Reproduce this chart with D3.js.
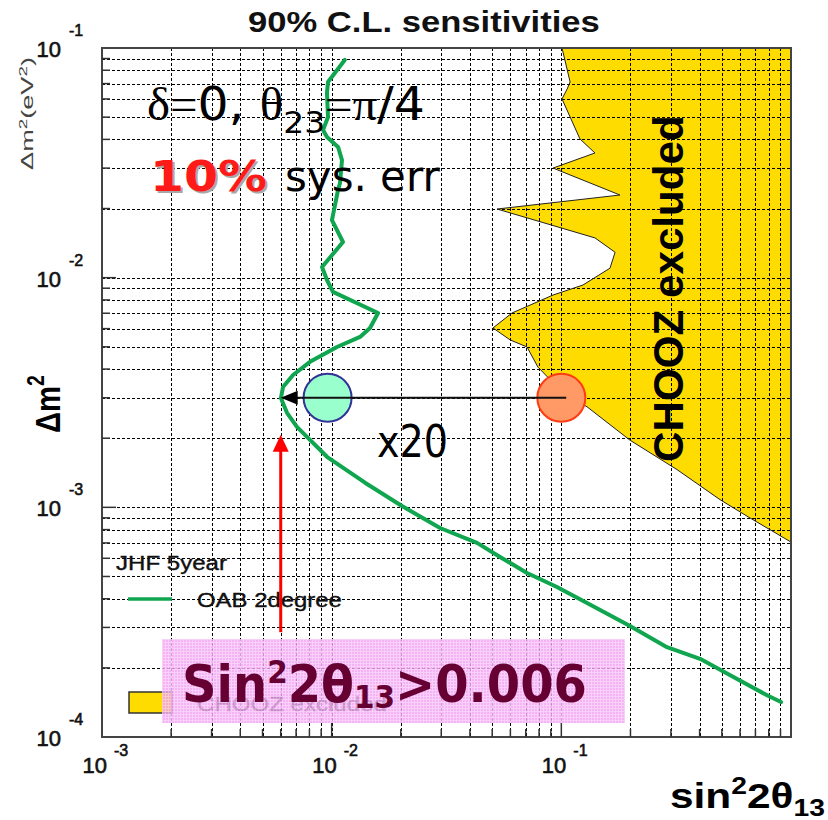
<!DOCTYPE html>
<html>
<head>
<meta charset="utf-8">
<script src="https://cdn.jsdelivr.net/npm/d3@7"></script>
<style>
  body { margin: 0; background: #fff; }
  svg { display: block; }
</style>
</head>
<body>
<svg id="chart" width="828" height="820"></svg>
<script>
// JHF 5 year, off-axis beam 2 degree: 90% C.L. sensitivity contour
const oabSin2 = [0.0114, 0.00964, 0.00954, 0.00964, 0.00917, 0.00954, 0.01066, 0.01109, 0.01087, 0.01066,
                 0.01003, 0.0112, 0.00908, 0.00954, 0.01013, 0.01592, 0.01469, 0.01329, 0.01055, 0.00805,
                 0.00679, 0.00614, 0.00601, 0.00639, 0.00706, 0.00954, 0.01397, 0.02023, 0.02964, 0.04295,
                 0.05408, 0.0709, 0.0957, 0.1294, 0.1991, 0.2884, 0.4017, 0.559, 0.786, 0.905];
const oabDm2 = [0.0887, 0.0711, 0.0637, 0.0501, 0.0439, 0.0410, 0.0371, 0.0325, 0.0258, 0.0241,
                0.0178, 0.0143, 0.01112, 0.00977, 0.00867, 0.00702, 0.00604, 0.00552, 0.00499, 0.00430,
                0.00377, 0.00334, 0.00299, 0.00258, 0.00224, 0.00166, 0.00128, 0.001014, 0.000813, 0.000700,
                0.000608, 0.000518, 0.000450, 0.000383, 0.000304, 0.000246, 0.000219, 0.000183, 0.000152, 0.000142];

// CHOOZ excluded region boundary (excluded to the right)
const choozSin2 = [0.1007, 0.1092, 0.1060, 0.1007, 0.1205, 0.1401, 0.0920, 0.1800, 0.0525, 0.1401,
                   0.1714, 0.1629, 0.1242, 0.0920, 0.0610, 0.0504, 0.0598, 0.0709, 0.0791, 0.1017,
                   0.1294, 0.1991, 0.3189, 0.491, 0.663, 1.0];
const choozDm2 = [0.1, 0.0711, 0.0663, 0.0600, 0.0402, 0.0349, 0.0300, 0.0229, 0.0199, 0.0149,
                  0.0129, 0.0110, 0.00929, 0.00840, 0.00702, 0.00604, 0.00536, 0.00499, 0.00408, 0.00315,
                  0.00274, 0.00196, 0.00146, 0.00108, 0.000899, 0.000706];

// Axis decades and their exponent labels
const xTicks = [1e-3, 1e-2, 1e-1];
const xTickExp = ["-3", "-2", "-1"];
const yTicks = [1e-1, 1e-2, 1e-3, 1e-4];
const yTickExp = ["-1", "-2", "-3", "-4"];

// Annotation points: CHOOZ limit, JHF reach, the x20 arrow and the quoted limit
const choozPoint = { sin2: 0.1, dm2: 0.003 };
const jhfPoint = { sin2: 0.0096, dm2: 0.003 };
const arrowFromSin2 = 0.105;
const limitSin2 = 0.006;
const limitArrowDm2 = [0.000286, 0.00207];

const svg = d3.select("#chart");
const plot = { left: 102, top: 48, right: 791, bottom: 737 };

const x = d3.scaleLog().domain([1e-3, 1]).range([plot.left, plot.right]);
const y = d3.scaleLog().domain([1e-4, 1e-1]).range([plot.bottom, plot.top]);

const sans = "'Liberation Sans', Arial, sans-serif";
const tahoma = "'DejaVu Sans', Verdana, sans-serif";
const serif = "'Liberation Serif', 'Times New Roman', serif";

// Builds a text element at the origin, then stretches it horizontally to a target width.
function fitText(parent, px, py, width, rotate, build) {
  const g = parent.append("g");
  const t = g.append("text");
  build(t);
  const bb = t.node().getBBox();
  const sx = width / bb.width;
  t.attr("x", -bb.x);
  g.attr("transform", `translate(${px},${py})` + (rotate ? ` rotate(${rotate})` : "") + ` scale(${sx},1)`);
  return g;
}

const defs = svg.append("defs");
const mesh = defs.append("pattern").attr("id", "mesh")
  .attr("width", 3).attr("height", 3).attr("patternUnits", "userSpaceOnUse");
mesh.append("rect").attr("width", 3).attr("height", 3).attr("fill", "#f3a2f3");
mesh.append("rect").attr("width", 3).attr("height", 1).attr("fill", "#f8c6f8");
mesh.append("rect").attr("width", 1).attr("height", 3).attr("fill", "#f8c6f8");

// --- CHOOZ excluded area ---
const choozPts = choozSin2.map((s, i) => [s, choozDm2[i]]);
const areaPts = choozPts.concat([[1, 1e-1]]);
const lineGen = d3.line().x(d => x(d[0])).y(d => y(d[1]));
svg.append("path")
  .attr("d", lineGen(areaPts) + "Z")
  .attr("fill", "#ffdc00");

// --- grid ---
const xGrid = x.ticks().filter(v => v > 1e-3 * 1.001 && v < 0.999);
const yGrid = y.ticks().filter(v => v > 1e-4 * 1.001 && v < 0.0999);
const grid = svg.append("g").attr("stroke", "#000").attr("stroke-width", 1)
  .attr("stroke-dasharray", "3,2");
grid.selectAll("line.v").data(xGrid).join("line").attr("class", "v")
  .attr("x1", d => Math.round(x(d)) + 0.5).attr("x2", d => Math.round(x(d)) + 0.5)
  .attr("y1", plot.top).attr("y2", plot.bottom);
grid.selectAll("line.h").data(yGrid).join("line").attr("class", "h")
  .attr("y1", d => Math.round(y(d)) + 0.5).attr("y2", d => Math.round(y(d)) + 0.5)
  .attr("x1", plot.left).attr("x2", plot.right);

// CHOOZ boundary
svg.append("path").attr("d", lineGen(choozPts))
  .attr("fill", "none").attr("stroke", "#222").attr("stroke-width", 1);

// --- frame and inward ticks ---
svg.append("rect")
  .attr("x", plot.left).attr("y", plot.top)
  .attr("width", plot.right - plot.left).attr("height", plot.bottom - plot.top)
  .attr("fill", "none").attr("stroke", "#444").attr("stroke-width", 2);

const isMajor = v => Math.abs(Math.log10(v) - Math.round(Math.log10(v))) < 1e-6;
const ticks = svg.append("g").attr("stroke", "#333").attr("stroke-width", 1.5);
ticks.selectAll("line.yt").data(yGrid).join("line").attr("class", "yt")
  .attr("x1", plot.left).attr("x2", d => plot.left + (isMajor(d) ? 14 : 8))
  .attr("y1", d => y(d)).attr("y2", d => y(d));
ticks.selectAll("line.xt").data(xGrid).join("line").attr("class", "xt")
  .attr("y1", plot.bottom).attr("y2", d => plot.bottom - (isMajor(d) ? 14 : 8))
  .attr("x1", d => x(d)).attr("x2", d => x(d));

// --- tick labels ---
const tl = svg.append("g").attr("font-family", sans).attr("fill", "#111")
  .attr("stroke", "#111").attr("stroke-width", 0.6);
xTicks.forEach((v, i) => {
  tl.append("text").attr("x", x(v) + 5).attr("y", 773).attr("text-anchor", "end")
    .attr("font-size", 22).text("10");
  tl.append("text").attr("x", x(v) + 12).attr("y", 756)
    .attr("font-size", 16).text(xTickExp[i]);
});
yTicks.forEach((v, i) => {
  tl.append("text").attr("x", 61).attr("y", y(v) + 9).attr("text-anchor", "end")
    .attr("font-size", 22).text("10");
  tl.append("text").attr("x", 69).attr("y", y(v) - 12)
    .attr("font-size", 16).text(yTickExp[i]);
});

// --- sensitivity curve ---
const oabPts = oabSin2.map((s, i) => [s, oabDm2[i]]);
svg.append("path").attr("d", lineGen(oabPts))
  .attr("fill", "none").attr("stroke", "#0fa64f").attr("stroke-width", 4)
  .attr("stroke-linejoin", "round").attr("stroke-linecap", "round");

// --- legend ---
const leg = svg.append("g");
fitText(leg, 116, 570, 111, 0, t => t.attr("font-family", sans).attr("font-size", 21)
  .attr("fill", "#111").attr("stroke", "#111").attr("stroke-width", 0.4).text("JHF 5year"));
leg.append("line").attr("x1", 128).attr("x2", 172).attr("y1", 599).attr("y2", 599)
  .attr("stroke", "#0fa64f").attr("stroke-width", 3.5);
fitText(leg, 197, 607, 145, 0, t => t.attr("font-family", sans).attr("font-size", 21)
  .attr("fill", "#111").attr("stroke", "#111").attr("stroke-width", 0.4).text("OAB 2degree"));
leg.append("rect").attr("x", 129).attr("y", 692).attr("width", 43).attr("height", 21)
  .attr("fill", "#ffdc00").attr("stroke", "#333").attr("stroke-width", 1.5);
fitText(leg, 197, 711, 190, 0, t => t.attr("font-family", sans).attr("font-size", 21)
  .attr("fill", "#111").attr("stroke", "#111").attr("stroke-width", 0.4).text("CHOOZ excluded"));

// --- CHOOZ point, JHF point and x20 arrow ---
svg.append("circle").attr("cx", x(choozPoint.sin2)).attr("cy", y(choozPoint.dm2)).attr("r", 24)
  .attr("fill", "#ff9966").attr("stroke", "#ff3b12").attr("stroke-width", 2);
svg.append("circle").attr("cx", x(jhfPoint.sin2)).attr("cy", y(jhfPoint.dm2)).attr("r", 24)
  .attr("fill", "#99ffcc").attr("stroke", "#333399").attr("stroke-width", 2);

const ay = y(choozPoint.dm2);
const tipX = x(limitSin2);
svg.append("line").attr("x1", x(arrowFromSin2)).attr("x2", tipX + 10)
  .attr("y1", ay).attr("y2", ay).attr("stroke", "#111").attr("stroke-width", 1.8);
svg.append("path")
  .attr("d", `M${tipX},${ay} L${tipX + 17},${ay - 7} L${tipX + 17},${ay + 7} Z`)
  .attr("fill", "#000");

// red arrow up to the limit
const rTop = y(limitArrowDm2[1]);
const rBot = y(limitArrowDm2[0]);
svg.append("line").attr("x1", tipX).attr("x2", tipX).attr("y1", rBot).attr("y2", rTop + 12)
  .attr("stroke", "#ff0000").attr("stroke-width", 3);
svg.append("path")
  .attr("d", `M${tipX},${rTop} L${tipX - 8},${rTop + 17} L${tipX + 8},${rTop + 17} Z`)
  .attr("fill", "#ff0000");

// --- highlighted limit box ---
svg.append("rect").attr("x", 162).attr("y", 639).attr("width", 463).attr("height", 84)
  .attr("fill", "url(#mesh)").attr("opacity", 0.82);
fitText(svg, 182, 702, 405, 0, t => {
  t.attr("font-family", tahoma).attr("font-weight", "bold").attr("font-size", 52).attr("fill", "#660033");
  t.append("tspan").text("Sin");
  t.append("tspan").attr("font-size", 32).attr("dy", -19).text("2");
  t.append("tspan").attr("dy", 19).text("2θ");
  t.append("tspan").attr("font-size", 32).attr("dy", 6).text("13");
  t.append("tspan").attr("dy", -6).text(">0.006");
});

// --- annotations ---
fitText(svg, 147, 120, 278, 0, t => {
  t.attr("font-size", 46).attr("fill", "#000");
  t.append("tspan").attr("font-family", serif).text("δ=");
  t.append("tspan").attr("font-family", tahoma).text("0, ");
  t.append("tspan").attr("font-family", serif).text("θ");
  t.append("tspan").attr("font-family", tahoma).attr("font-size", 31).attr("dy", 13).text("23");
  t.append("tspan").attr("font-family", serif).attr("dy", -13).text("=π");
  t.append("tspan").attr("font-family", tahoma).text("/4");
});

fitText(svg, 152, 193, 117, 0, t => t.attr("font-family", tahoma).attr("font-weight", "bold")
  .attr("font-size", 43).attr("fill", "#a8a8a8").text("10%"));
fitText(svg, 150, 191, 117, 0, t => t.attr("font-family", tahoma).attr("font-weight", "bold")
  .attr("font-size", 43).attr("fill", "#ff1a1a").text("10%"));
fitText(svg, 285, 191, 155, 0, t => t.attr("font-family", tahoma)
  .attr("font-size", 43).attr("fill", "#000").text("sys. err"));

fitText(svg, 377, 457, 71, 0, t => t.attr("font-family", tahoma)
  .attr("font-size", 44).attr("fill", "#000").text("x20"));

fitText(svg, 683, 462, 347, -90, t => t.attr("font-family", sans).attr("font-weight", "bold")
  .attr("font-size", 42).attr("fill", "#000").text("CHOOZ excluded"));

// --- titles ---
fitText(svg, 248, 32, 352, 0, t => t.attr("font-family", sans).attr("font-weight", "bold")
  .attr("font-size", 29).attr("fill", "#111").text("90% C.L. sensitivities"));

fitText(svg, 33, 170, 113, -90, t => {
  t.attr("font-family", sans).attr("font-size", 16).attr("fill", "#444");
  t.append("tspan").text("Δm");
  t.append("tspan").attr("font-size", 11).attr("dy", -6).text("2");
  t.append("tspan").attr("dy", 6).text("(eV");
  t.append("tspan").attr("font-size", 11).attr("dy", -6).text("2");
  t.append("tspan").attr("dy", 6).text(")");
});

fitText(svg, 60, 433, 58, -90, t => {
  t.attr("font-family", sans).attr("font-weight", "bold").attr("font-size", 36).attr("fill", "#000");
  t.append("tspan").text("Δm");
  t.append("tspan").attr("font-size", 24).attr("dy", -16).text("2");
});

fitText(svg, 670, 808, 155, 0, t => {
  t.attr("font-family", sans).attr("font-weight", "bold").attr("font-size", 36).attr("fill", "#000");
  t.append("tspan").text("sin");
  t.append("tspan").attr("font-size", 24).attr("dy", -14).text("2");
  t.append("tspan").attr("dy", 14).text("2θ");
  t.append("tspan").attr("font-size", 24).attr("dy", 8).text("13");
});
</script>
</body>
</html>
